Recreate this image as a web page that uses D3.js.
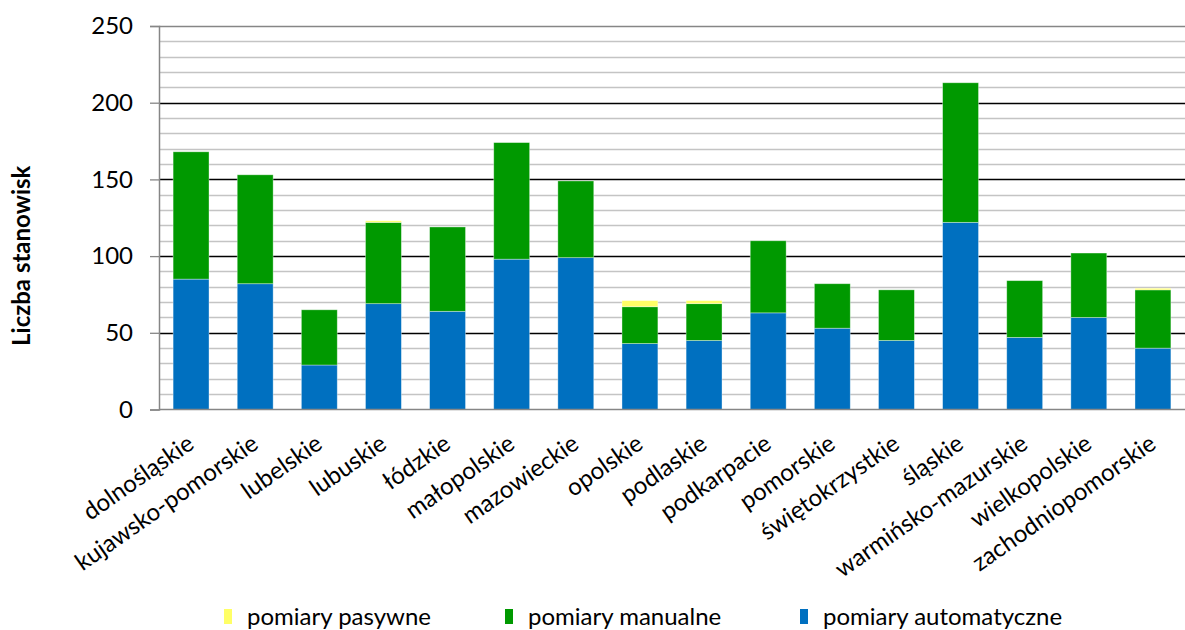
<!DOCTYPE html>
<html>
<head>
<meta charset="utf-8">
<script src="https://cdn.jsdelivr.net/npm/d3@7"></script>
<style>
html,body{margin:0;padding:0;background:#fff;}
svg{display:block;font-family:Lato, "Open Sans", sans-serif;}
</style>
</head>
<body>
<svg id="chart" width="1185" height="630"></svg>
<script>
const categories = ["dolnośląskie","kujawsko-pomorskie","lubelskie","lubuskie","łódzkie","małopolskie","mazowieckie","opolskie","podlaskie","podkarpacie","pomorskie","świętokrzystkie","śląskie","warmińsko-mazurskie","wielkopolskie","zachodniopomorskie"];
const automatyczne = [85,82,29,69,64,98,99,43,45,63,53,45,122,47,60,40];
const manualne     = [83,71,36,53,55,76,50,24,24,47,29,33,91,37,42,38];
const pasywne      = [0,0,0,1,0,0,0,4,2,0,0,0,0,0,0,1];
const seriesNames = ["pomiary automatyczne","pomiary manualne","pomiary pasywne"];
const yTicks = [0,50,100,150,200,250];
const legendOrder = ["pomiary pasywne","pomiary manualne","pomiary automatyczne"];

const colors = {"pomiary automatyczne":"#0070C0","pomiary manualne":"#009900","pomiary pasywne":"#FFFF66"};

const svg = d3.select("#chart");
const m = {left:159, right:0, top:26, bottom:221};
const W = 1185, H = 630;
const x = d3.scaleBand().domain(categories).range([m.left, W - m.right]).paddingInner(0.44).paddingOuter(0.22);
const y = d3.scaleLinear().domain([0,250]).range([H - m.bottom + 0.5, m.top]);

// minor gridlines
const minor = d3.range(10, 250, 10).filter(v => v % 50 !== 0);
svg.append("g").selectAll("line").data(minor).join("line")
  .attr("x1", m.left).attr("x2", W - m.right)
  .attr("y1", d => Math.round(y(d)) + 0.5).attr("y2", d => Math.round(y(d)) + 0.5)
  .attr("stroke", "#c4c4c4").attr("stroke-width", 1.4);
// major gridlines
svg.append("g").selectAll("line").data([50,100,150,200]).join("line")
  .attr("x1", m.left).attr("x2", W - m.right)
  .attr("y1", d => Math.round(y(d)) + 0.5).attr("y2", d => Math.round(y(d)) + 0.5)
  .attr("stroke", "#000").attr("stroke-width", 1.3);
// top border
svg.append("line").attr("x1", m.left).attr("x2", W - m.right)
  .attr("y1", Math.round(y(250)) + 0.5).attr("y2", Math.round(y(250)) + 0.5)
  .attr("stroke", "#868686").attr("stroke-width", 1.5);

// stacked bars
const data = categories.map((c,i) => ({cat:c, "pomiary automatyczne":automatyczne[i], "pomiary manualne":manualne[i], "pomiary pasywne":pasywne[i]}));
const stack = d3.stack().keys(seriesNames)(data);
svg.append("g").selectAll("g").data(stack).join("g")
  .attr("fill", d => colors[d.key])
  .selectAll("rect").data(d => d.filter(p => p[1] > p[0])).join("rect")
  .attr("x", d => x(d.data.cat))
  .attr("width", x.bandwidth())
  .attr("y", d => y(d[1]))
  .attr("height", d => y(d[0]) - y(d[1]))
  .attr("stroke", "rgba(255,255,255,0.45)").attr("stroke-width", 0.8);

// y axis
const yAxis = d3.axisLeft(y).tickValues(yTicks).tickSize(9).tickPadding(17);
const gy = svg.append("g").attr("transform", `translate(${m.left},0)`).call(yAxis);
gy.select(".domain").attr("stroke", "#868686").attr("stroke-width", 1.5);
gy.selectAll(".tick line").attr("stroke", "#868686").attr("stroke-width", 1.3);
gy.selectAll("text").attr("font-size", 24).attr("fill", "#000").attr("font-family", "Lato, sans-serif");

// x axis baseline
const gx = svg.append("g").attr("transform", `translate(0,${y(0)})`)
  .call(d3.axisBottom(x).tickSize(0).tickFormat(""));
gx.select(".domain").attr("stroke", "#868686").attr("stroke-width", 1.5).attr("d", `M${m.left},0H${W}`);

// x labels
svg.append("g").selectAll("text").data(categories).join("text")
  .attr("transform", d => `translate(${x(d) + x.bandwidth()/2 - 5},${y(0) + 24}) rotate(-35)`)
  .attr("text-anchor", "end")
  .attr("dy", "0.7em")
  .attr("font-size", 24)
  .attr("fill", "#000")
  .text(d => d);

// y title
svg.append("text")
  .attr("transform", `translate(30,${(m.top + y(0))/2 + 38}) rotate(-90)`)
  .attr("text-anchor", "middle")
  .attr("font-size", 24).attr("font-weight", "bold")
  .text("Liczba stanowisk");

// legend
const legX = [224, 505, 800];
const lg = svg.append("g").selectAll("g").data(legendOrder).join("g")
  .attr("transform", (d,i) => `translate(${legX[i]},617)`);
lg.append("rect").attr("x", 0).attr("y", -8).attr("width", 8).attr("height", 15).attr("fill", d => colors[d]);
lg.append("text").attr("x", 23).attr("y", 0).attr("dy", "0.35em").attr("font-size", 24).text(d => d);
</script>
</body>
</html>
